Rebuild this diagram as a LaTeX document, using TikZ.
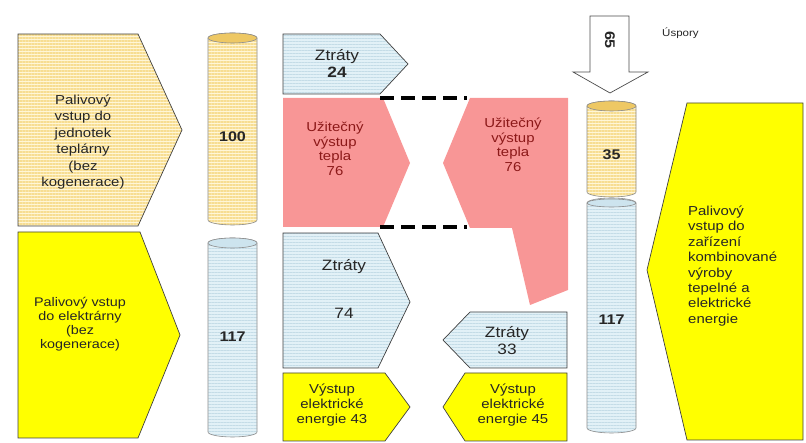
\documentclass[tikz,border=0pt]{standalone}
\usepackage{fontspec}
\setmainfont{Liberation Sans}[FakeStretch=1.15]
\usetikzlibrary{patterns.meta}

\definecolor{zluta}{RGB}{255,255,0}
\definecolor{krem}{RGB}{255,246,214}
\definecolor{kremcara}{RGB}{247,221,145}
\definecolor{kremvicko}{RGB}{238,200,100}
\definecolor{modra}{RGB}{226,241,247}
\definecolor{modracara}{RGB}{196,220,231}
\definecolor{modravicko}{RGB}{205,228,238}
\definecolor{ruzova}{RGB}{248,150,150}
\definecolor{hneda}{RGB}{140,25,25}

\tikzset{
  obrys/.style={draw=black!75, line width=0.7pt},
  valec/.style={draw=black!45, line width=0.6pt},
  pruhy/.style={preaction={fill=krem},
    preaction={pattern={Lines[angle=0,distance=3pt,line width=1.1pt]}, pattern color=kremcara}},
  linky/.style={preaction={fill=modra},
    preaction={pattern={Lines[angle=0,distance=3pt,line width=0.5pt]}, pattern color=modracara}},
  carky/.style={line width=4pt, dash pattern=on 14pt off 7pt},
  popis/.style={align=center, inner sep=0pt, text=black!85},
  teplo/.style={popis, text=hneda, font=\fontsize{13}{14.5}\selectfont},
  ztraty/.style={popis, font=\fontsize{15}{17}\selectfont},
  vystup/.style={popis, font=\fontsize{13}{15}\selectfont},
  cislo/.style={popis, font=\fontsize{14}{16}\selectfont\bfseries}
}

\begin{document}
\begin{tikzpicture}[x=1pt,y=1pt]
\useasboundingbox (0,0) rectangle (806,443);

\draw [obrys, pruhy] (18,409) -- (138,409) -- (182,313) -- (138,217) -- (18,217) -- cycle;
\draw [obrys, fill=zluta] (18,211) -- (140,211) -- (180,108) -- (138,5) -- (18,5) -- cycle;
\node [popis, font=\fontsize{13}{16.5}\selectfont] (palivoT) at (83,301) {Palivový\\vstup do\\jednotek\\teplárny\\(bez\\kogenerace)};
\node [popis, font=\fontsize{12.5}{14}\selectfont] (palivoE) at (80,119) {Palivový vstup\\do elektrárny\\(bez\\kogenerace)};

\draw [valec, pruhy] (208,405) -- (208,223) arc [start angle=180, end angle=360, x radius=24.5, y radius=5] -- (257,405) arc [start angle=0, end angle=180, x radius=24.5, y radius=5] -- cycle;
\draw [valec, fill=kremvicko] (232.5,405) ellipse [x radius=24.5, y radius=5];
\draw [valec, linky] (208,200) -- (208,11) arc [start angle=180, end angle=360, x radius=24.5, y radius=5] -- (257,200) arc [start angle=0, end angle=180, x radius=24.5, y radius=5] -- cycle;
\draw [valec, fill=modravicko] (232.5,200) ellipse [x radius=24.5, y radius=5];
\node [cislo] (nula100) at (232.5,306) {100};
\node [cislo] (nula117) at (232.5,106) {117};

\draw [obrys, linky] (283,409) -- (380,409) -- (408,379) -- (380,349) -- (283,349) -- cycle;
\node [ztraty] (ztraty24) at (337,380) {Ztráty\\\textbf{24}};
\fill [ruzova] (283,345) -- (383,345) -- (410,280) -- (383,216) -- (283,216) -- cycle;
\node [teplo] (teploL) at (335,294) {Užitečný\\výstup\\tepla\\76};
\draw [obrys, linky] (283,210) -- (378,210) -- (410,141) -- (378,75) -- (283,75) -- cycle;
\node [ztraty] (ztraty74) at (344,154) {Ztráty\\[31pt]74};
\draw [obrys, fill=zluta] (283,70) -- (385,70) -- (410,36) -- (385,2) -- (283,2) -- cycle;
\node [vystup] (vystup43) at (332,38) {Výstup\\elektrické\\energie 43};

\draw [carky] (380,345) -- (467,345);
\draw [carky] (380,216) -- (467,216);

\fill [ruzova] (470,345) -- (568,345) -- (568,153) -- (530,138) -- (512,215) -- (470,215) -- (443,280) -- cycle;
\node [teplo] (teploP) at (513,298) {Užitečný\\výstup\\tepla\\76};
\draw [obrys, linky] (443,103) -- (470,131) -- (567,131) -- (567,75) -- (470,75) -- cycle;
\node [ztraty] (ztraty33) at (507,102) {Ztráty\\33};
\draw [obrys, fill=zluta] (443,36) -- (465,70) -- (567,70) -- (567,2) -- (465,2) -- cycle;
\node [vystup] (vystup45) at (513,38) {Výstup\\elektrické\\energie 45};

\draw [black!70, line width=0.7pt, fill=white] (590,427) -- (590,371) -- (573,371) -- (610,350) -- (648,371) -- (629,371) -- (629,427) -- cycle;
\node [cislo, rotate=-90] (uspora65) at (610,403) {65};
\node [popis, anchor=west, font=\fontsize{10}{12}\selectfont] (uspory) at (662,410) {Úspory};

\draw [valec, linky] (587,240) -- (587,15) arc [start angle=180, end angle=360, x radius=24.5, y radius=5] -- (636,240) arc [start angle=0, end angle=180, x radius=24.5, y radius=5] -- cycle;
\draw [valec, pruhy] (587,337) -- (587,251) arc [start angle=180, end angle=360, x radius=24.5, y radius=5] -- (636,337) arc [start angle=0, end angle=180, x radius=24.5, y radius=5] -- cycle;
\draw [valec, fill=kremvicko] (611.5,337) ellipse [x radius=24.5, y radius=5];
\draw [valec, fill=modravicko] (611.5,240) ellipse [x radius=24.5, y radius=4];
\node [cislo] (kombi35) at (611.5,288) {35};
\node [cislo] (kombi117) at (611.5,123) {117};

\draw [obrys, fill=zluta] (647,173) -- (687,340) -- (803,340) -- (803,3) -- (687,3) -- cycle;
\node [popis, anchor=west, align=left, font=\fontsize{13}{15.4}\selectfont] (palivoK) at (688,177) {Palivový\\vstup do\\zařízení\\kombinované\\výroby\\tepelné a\\elektrické\\energie};
\end{tikzpicture}
\end{document}
